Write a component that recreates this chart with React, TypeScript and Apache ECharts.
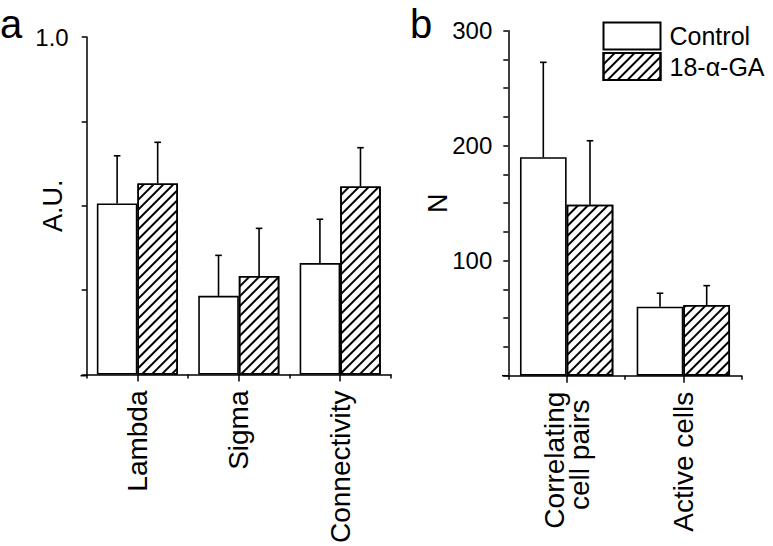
import React, { useEffect, useRef } from "react";
import * as echarts from "echarts";

// ---- Data ----
const categoriesA = ["Lambda", "Sigma", "Connectivity"];
const controlA = [0.507, 0.233, 0.33];
const controlErrA = [0.141, 0.12, 0.13];
const gaA = [0.566, 0.292, 0.557];
const gaErrA = [0.122, 0.141, 0.115];

const categoriesB = ["Correlating\ncell pairs", "Active cells"];
const controlB = [190, 60];
const controlErrB = [82.5, 11.7];
const gaB = [148.7, 61.5];
const gaErrB = [55.6, 16.8];

const yLabelValuesA = [1.0];
const yLabelValuesB = [100, 200, 300];

const seriesNames = ["Control", "18-α-GA"];
const panelLetters = ["a", "b"];

const FONT = "'Liberation Sans', Arial, Helvetica, sans-serif";

const hatch = {
  symbol: "rect",
  symbolSize: 1,
  color: "#000",
  dashArrayX: [1, 0],
  dashArrayY: [1.8, 4.2],
  rotation: -Math.PI / 4,
};

function errSeries(
  vals: number[],
  errs: number[],
  offset: number,
  xi: number,
  yi: number
) {
  return {
    type: "custom",
    xAxisIndex: xi,
    yAxisIndex: yi,
    z: 10,
    silent: true,
    encode: { x: 0, y: 1 },
    data: vals.map((v, i) => [i, v, errs[i]]),
    renderItem: (params: any, api: any) => {
      const cat = api.value(0);
      const val = api.value(1);
      const err = api.value(2);
      const base = api.coord([cat, val]);
      const top = api.coord([cat, val + err]);
      const band = api.size([1, 0])[0];
      const x = base[0] + offset * band;
      const st = { stroke: "#000", lineWidth: 1.6 };
      return {
        type: "group",
        children: [
          { type: "line", shape: { x1: x, y1: base[1], x2: x, y2: top[1] }, style: st },
          { type: "line", shape: { x1: x - 3.3, y1: top[1], x2: x + 3.3, y2: top[1] }, style: st },
        ],
      };
    },
  };
}

// second line of a two-line label is nudged away from the axis (trailing no-break space)
function labelFormatter(v: string) {
  const parts = v.split("\n");
  if (parts.length === 1) return v;
  return parts[0] + "\n" + parts[1] + "\u00A0";
}

function mainX(grid: number, cats: string[]) {
  return {
    type: "category",
    gridIndex: grid,
    data: cats,
    position: "bottom",
    axisLine: { show: true, lineStyle: { color: "#000", width: 1.5 } },
    axisTick: { show: true, alignWithLabel: false, inside: false, length: 4, lineStyle: { color: "#000", width: 1.5 } },
    axisLabel: {
      rotate: 90,
      margin: 16,
      fontSize: 28,
      fontFamily: FONT,
      color: "#000",
      interval: 0,
      lineHeight: 25,
      formatter: labelFormatter,
    },
    splitLine: { show: false },
  };
}

function centerX(grid: number, cats: string[]) {
  return {
    type: "category",
    gridIndex: grid,
    data: cats,
    position: "bottom",
    axisLine: { show: false },
    axisTick: { show: true, alignWithLabel: true, interval: 0, length: 7, lineStyle: { color: "#000", width: 1.5 } },
    axisLabel: { show: false },
    splitLine: { show: false },
  };
}

export default function App() {
  const ref = useRef<HTMLDivElement>(null);
  useEffect(() => {
    if (!ref.current) return;
    const chart = echarts.init(ref.current, undefined, { renderer: "svg" });
    const barBase = {
      type: "bar",
      barGap: "0%",
      barCategoryGap: "20%",
      z: 5,
    };
    const ctrlStyle = { color: "#fff", borderColor: "#000", borderWidth: 1.6 };
    const gaStyle = { color: "#fff", borderColor: "#000", borderWidth: 1.6, decal: hatch };
    chart.setOption({
      animation: false,
      backgroundColor: "#fff",
      textStyle: { fontFamily: FONT },
      grid: [
        { left: 86.7, top: 37, width: 304.2, height: 338.7, containLabel: false },
        { left: 508.3, top: 30.7, width: 233.4, height: 345, containLabel: false },
      ],
      legend: {
        show: true,
        orient: "vertical",
        left: 602.5,
        top: 21.5,
        padding: 0,
        itemWidth: 57,
        itemHeight: 27,
        itemGap: 1.5,
        icon: "rect",
        data: seriesNames,
        textStyle: { fontSize: 25, fontFamily: FONT, color: "#000", lineHeight: 27, padding: [0, 0, 0, 4] },
        selectedMode: false,
      },
      xAxis: [
        mainX(0, categoriesA),
        centerX(0, categoriesA),
        mainX(1, categoriesB),
        centerX(1, categoriesB),
      ],
      yAxis: [
        {
          type: "value",
          gridIndex: 0,
          min: 0,
          max: 1,
          interval: 0.25,
          axisLine: { show: true, lineStyle: { color: "#000", width: 1.5 } },
          axisTick: { show: true, length: 5, lineStyle: { color: "#000", width: 1.5 } },
          axisLabel: {
            fontSize: 24,
            fontFamily: FONT,
            color: "#000",
            margin: 18,
            formatter: (v: number) => (yLabelValuesA.some((t) => Math.abs(t - v) < 1e-9) ? v.toFixed(1) : ""),
          },
          splitLine: { show: false },
          name: "A.U.",
          nameLocation: "middle",
          nameGap: 20,
          nameMoveOverlap: false,
          nameTextStyle: { fontSize: 27, fontFamily: FONT, color: "#000" },
        },
        {
          type: "value",
          gridIndex: 1,
          min: 0,
          max: 300,
          interval: 25,
          axisLine: { show: true, lineStyle: { color: "#000", width: 1.5 } },
          axisTick: { show: true, length: 5, lineStyle: { color: "#000", width: 1.5 } },
          axisLabel: {
            fontSize: 24,
            fontFamily: FONT,
            color: "#000",
            margin: 16,
            formatter: (v: number) => (yLabelValuesB.indexOf(v) >= 0 ? String(v) : ""),
          },
          splitLine: { show: false },
          name: "N",
          nameLocation: "middle",
          nameGap: 56.5,
          nameMoveOverlap: false,
          nameTextStyle: { fontSize: 27, fontFamily: FONT, color: "#000" },
        },
      ],
      series: [
        { ...barBase, name: seriesNames[0], xAxisIndex: 0, yAxisIndex: 0, data: controlA, itemStyle: ctrlStyle },
        { ...barBase, name: seriesNames[1], xAxisIndex: 0, yAxisIndex: 0, data: gaA, itemStyle: gaStyle },
        { ...barBase, name: seriesNames[0], xAxisIndex: 2, yAxisIndex: 1, data: controlB, itemStyle: ctrlStyle },
        { ...barBase, name: seriesNames[1], xAxisIndex: 2, yAxisIndex: 1, data: gaB, itemStyle: gaStyle },
        errSeries(controlA, controlErrA, -0.2, 0, 0),
        errSeries(gaA, gaErrA, 0.2, 0, 0),
        errSeries(controlB, controlErrB, -0.2, 2, 1),
        errSeries(gaB, gaErrB, 0.2, 2, 1),
      ],
      graphic: [
        {
          type: "text",
          x: 0,
          y: 23.5,
          style: { text: panelLetters[0], font: `40px ${FONT}`, fill: "#000", verticalAlign: "middle", align: "left" },
        },
        {
          type: "text",
          x: 410,
          y: 23.5,
          style: { text: panelLetters[1], font: `40px ${FONT}`, fill: "#000", verticalAlign: "middle", align: "left" },
        },
        { type: "line", shape: { x1: 80.5, y1: 375.7, x2: 87, y2: 375.7 }, style: { stroke: "#000", lineWidth: 1.5 } },
        { type: "line", shape: { x1: 502, y1: 375.7, x2: 508.5, y2: 375.7 }, style: { stroke: "#000", lineWidth: 1.5 } },
      ],
    });
    return () => chart.dispose();
  }, []);
  return (
    <div
      ref={ref}
      style={{ position: "fixed", left: 0, top: 0, width: 773, height: 546, background: "#fff" }}
    />
  );
}
